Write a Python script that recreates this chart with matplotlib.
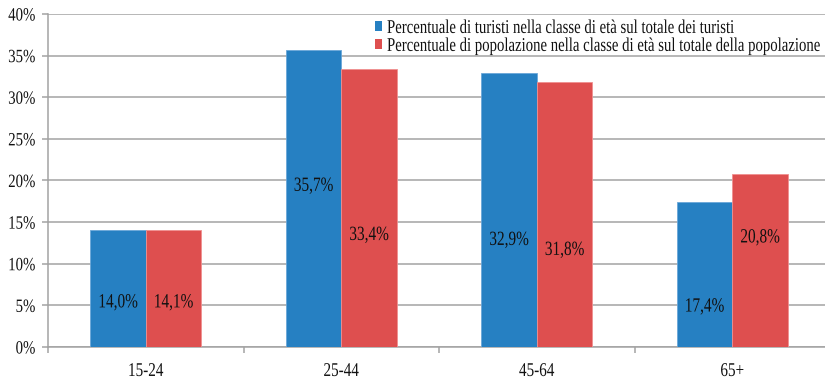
import matplotlib
matplotlib.use("Agg")
import matplotlib.pyplot as plt
import numpy as np
from matplotlib.patheffects import AbstractPathEffect
from matplotlib.transforms import Affine2D, Bbox

categories = ["15-24", "25-44", "45-64", "65+"]
turisti = [14.0, 35.7, 32.9, 17.4]
popolazione = [14.1, 33.4, 31.8, 20.8]
# heights (in %) at which each value label sits inside its bar
turisti_label_y = [5.3, 19.3, 12.8, 4.8]
popolazione_label_y = [5.3, 13.4, 11.6, 13.1]
series_names = [
    "Percentuale di turisti nella classe di età sul totale dei turisti",
    "Percentuale di popolazione nella classe di età sul totale della popolazione",
]
yticks = [0, 5, 10, 15, 20, 25, 30, 35, 40]

BLUE = "#2680C2"
RED = "#DE4F4F"
GRID = "#A3A3A3"
FONT = "Liberation Serif"


class Squeeze(AbstractPathEffect):
    """Horizontally condense glyph outlines around a chosen anchor."""

    def __init__(self, sx=0.76, anchor="center"):
        super().__init__()
        self.sx = sx
        self.anchor = anchor

    def draw_path(self, renderer, gc, tpath, affine, rgbFace=None):
        ext = tpath.get_extents()
        if self.anchor == "left":
            cx = 0.0
        elif self.anchor == "right":
            cx = ext.x1
        else:
            cx = 0.5 * (ext.x0 + ext.x1)
        t = Affine2D().translate(-cx, 0).scale(self.sx, 1).translate(cx, 0) + affine
        renderer.draw_path(gc, tpath, t, rgbFace)


def condense(text, sx, anchor):
    """Draw a text condensed and report its condensed extent."""
    text.set_path_effects([Squeeze(sx, anchor)])
    orig = text.get_window_extent

    def extent(renderer=None, dpi=None):
        bb = orig(renderer, dpi)
        w = bb.x1 - bb.x0
        if anchor == "left":
            x0, x1 = bb.x0, bb.x0 + sx * w
        elif anchor == "right":
            x0, x1 = bb.x1 - sx * w, bb.x1
        else:
            c = 0.5 * (bb.x0 + bb.x1)
            x0, x1 = c - 0.5 * sx * w, c + 0.5 * sx * w
        return Bbox([[x0, bb.y0], [x1, bb.y1]])

    text.get_window_extent = extent


fig = plt.figure(figsize=(8.25, 3.82), dpi=100)
W, H = 825, 382
ax = fig.add_axes([48 / W, 35 / H, 782 / W, 333 / H])

x = np.arange(len(categories))
bw = 0.284
b1 = ax.bar(x - bw / 2, turisti, bw, color=BLUE, edgecolor="#6AA6D8",
            linewidth=0.6, label=series_names[0], zorder=3)
b2 = ax.bar(x + bw / 2, popolazione, bw, color=RED, edgecolor="#F09090",
            linewidth=0.6, label=series_names[1], zorder=3)

for xs, vals, lys in ((x - bw / 2, turisti, turisti_label_y),
                      (x + bw / 2, popolazione, popolazione_label_y)):
    for xi, v, ly in zip(xs, vals, lys):
        t = ax.text(xi, ly, f"{v:.1f}%".replace(".", ","), ha="center", va="center",
                    fontsize=14.5, family=FONT, color="#111111", zorder=4)
        condense(t, 0.76, "center")

ax.set_xlim(-0.5, len(categories) - 0.5)
ax.set_ylim(0, 40)
ax.set_yticks(yticks)
ax.set_yticklabels([f"{v}%" for v in yticks])
ax.yaxis.grid(True, color=GRID, linewidth=1.1, zorder=0)
ax.set_axisbelow(True)

ax.set_xticks(x)
ax.set_xticklabels(categories)
ax.set_xticks(np.arange(-0.5, len(categories)), minor=True)
ax.tick_params(axis="x", which="major", length=0, pad=11.5)
ax.tick_params(axis="x", which="minor", length=4, width=1.1, color=GRID, direction="out")
ax.tick_params(axis="y", length=4, width=1.1, color=GRID, direction="out", pad=5)

for s in ("top", "right"):
    ax.spines[s].set_visible(False)
for s in ("left", "bottom"):
    ax.spines[s].set_color(GRID)
    ax.spines[s].set_linewidth(1.1)

for lab in ax.get_yticklabels():
    lab.set_family(FONT)
    lab.set_fontsize(13.5)
    lab.set_color("#111111")
    condense(lab, 0.79, "right")
for lab in ax.get_xticklabels():
    lab.set_family(FONT)
    lab.set_fontsize(14)
    lab.set_color("#111111")
    condense(lab, 0.78, "center")

leg = ax.legend(handles=[b1, b2], loc="upper left",
                bbox_to_anchor=(373 / W, 1 - 18 / H), bbox_transform=fig.transFigure,
                frameon=False, borderpad=0.1, handlelength=0.37, handleheight=0.37,
                handletextpad=0.25, labelspacing=0.05, borderaxespad=0,
                prop={"family": FONT, "size": 14})
for t in leg.get_texts():
    t.set_color("#111111")
    condense(t, 0.76, "left")
for h in leg.legend_handles:
    h.set_linewidth(0)

fig.savefig("out.png", dpi=100, facecolor="white")
